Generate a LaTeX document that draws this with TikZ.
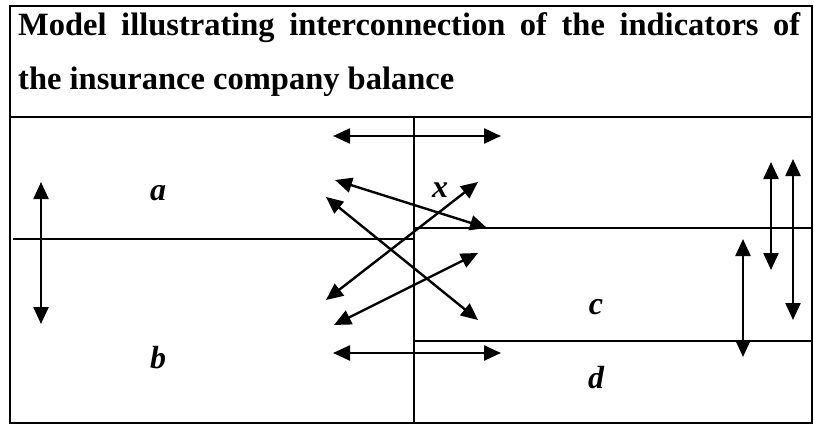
\documentclass[tikz,border=0pt]{standalone}
\usepackage{fontspec}
\setmainfont{Liberation Serif}
\usetikzlibrary{arrows.meta}
\begin{document}
\begin{tikzpicture}[x=1pt,y=-1pt,
  frame/.style={line width=2.2pt},
  rule/.style={line width=1.6pt},
  dbl/.style={line width=2.4pt,{Triangle[length=17pt,width=15pt]}-{Triangle[length=17pt,width=15pt]}},
  lbl/.style={font=\fontsize{32}{32}\selectfont\bfseries\itshape,inner sep=0pt},
  ttl/.style={font=\fontsize{32.5}{32.5}\selectfont\bfseries,inner sep=0pt,anchor=base west}]
\useasboundingbox (0,0) rectangle (814,425);
% frame
\draw[frame] (10,6) rectangle (812,423);
\draw[frame] (10,117) -- (812,117);
\draw[frame] (414,117) -- (414,423);
\draw[rule] (13,239) -- (414,239);
\draw[rule] (414,228) -- (812,228);
\draw[rule] (414,341) -- (812,341);
% title
\node[ttl] (t1) at (18,36) {\makebox[782pt][s]{Model illustrating interconnection of the indicators of}};
\node[ttl] (t2) at (18,90) {the insurance company balance};
% labels
\node[lbl] (a) at (158,193) {a};
\node[lbl] (b) at (158,358) {b};
\node[lbl] (x) at (440,190) {x};
\node[lbl] (c) at (596,307) {c};
\node[lbl] (d) at (596,378) {d};
% arrow endpoints
\coordinate (h1l) at (333,136); \coordinate (h1r) at (501,136);
\coordinate (h2l) at (333,353); \coordinate (h2r) at (501,353);
\coordinate (p1) at (335,180); \coordinate (q1) at (487,228);
\coordinate (p2) at (326,197); \coordinate (q2) at (478,320);
\coordinate (p3) at (326,300); \coordinate (q3) at (478,182);
\coordinate (p4) at (334,325); \coordinate (q4) at (478,253);
\coordinate (va1) at (771,162); \coordinate (va2) at (771,270);
\coordinate (vb1) at (793,159); \coordinate (vb2) at (793,320);
\coordinate (vc1) at (743,239); \coordinate (vc2) at (743,357);
\coordinate (vl1) at (41,182); \coordinate (vl2) at (41,324);
% arrows
\draw[dbl] (h1l) -- (h1r);
\draw[dbl] (h2l) -- (h2r);
\draw[dbl] (p1) -- (q1);
\draw[dbl] (p2) -- (q2);
\draw[dbl] (p3) -- (q3);
\draw[dbl] (p4) -- (q4);
\draw[dbl] (va1) -- (va2);
\draw[dbl] (vb1) -- (vb2);
\draw[dbl] (vc1) -- (vc2);
\draw[dbl] (vl1) -- (vl2);
\end{tikzpicture}
\end{document}
